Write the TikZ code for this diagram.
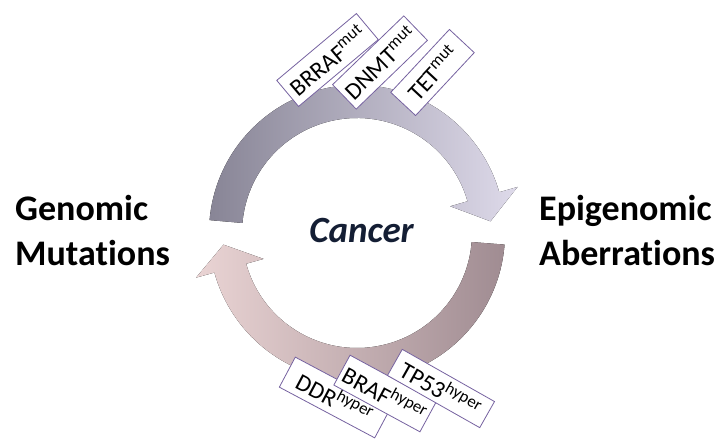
\documentclass[tikz,border=0pt]{standalone}
\usepackage{fontspec}
\setmainfont{Carlito}[Ligatures={NoCommon}, RawFeature={-liga;-clig;-dlig}]
\usepackage{tikz}
\usetikzlibrary{
	positioning
	,calc
}
\definecolor{upperdark}{RGB}{136,133,150}
\definecolor{upperlight}{RGB}{222,218,234}
\definecolor{lowerdark}{RGB}{160,140,146}
\definecolor{lowerlight}{RGB}{234,212,212}
\definecolor{cancerblue}{RGB}{20,30,52}
\definecolor{tagline}{RGB}{118,98,160}
\tikzset{
	tag/.style={
		draw=tagline
		,fill=white
		,line width=0.8pt
		,inner sep=0pt
		,minimum height=34pt
		,font=\fontsize{24}{26}\selectfont
	}
	,side/.style={
		align=left
		,anchor=west
		,inner sep=0pt
		,font=\fontsize{36}{45}\selectfont\bfseries
	}
}

\begin{document}
\begin{tikzpicture}[x=1pt, y=1pt]
\useasboundingbox (0,0) rectangle (724,442);
\coordinate (c) at (357,209);
% upper arrow
\fill[left color=upperdark, right color=upperlight]
	([shift={(175:148)}]c) arc[start angle=175, end angle=16, radius=148]
	-- ([shift={(16:167)}]c) -- ([shift={(5:134)}]c) -- ([shift={(16:97)}]c)
	-- ([shift={(16:115)}]c) arc[start angle=16, end angle=175, radius=115] -- cycle;
% lower arrow
\fill[left color=lowerlight, right color=lowerdark]
	([shift={(-4.5:148)}]c) arc[start angle=-4.5, end angle=-164.5, radius=148]
	-- ([shift={(-164.5:167)}]c) -- ([shift={(-175:134)}]c) -- ([shift={(-164.5:97)}]c)
	-- ([shift={(-164.5:115)}]c) arc[start angle=-164.5, end angle=-4.5, radius=115] -- cycle;

\node[font=\fontsize{37}{40}\selectfont\bfseries\itshape, text=cancerblue] (cancer) at (361.5,211) {Cancer};
\node[side] (genomic) at (15,211) {Genomic\\Mutations};
\node[side] (epigenomic) at (539,211) {Epigenomic\\Aberrations};

% mutated genes
\node[tag, minimum width=104pt, rotate=40] (brraf) at (327.5,382) {BRRAF\textsuperscript{mut}};
\node[tag, minimum width=99pt, rotate=44] (dnmt) at (380,379.5) {DNMT\textsuperscript{mut}};
\node[tag, minimum width=86pt, rotate=47] (tet) at (432.5,369.5) {TET\textsuperscript{mut}};
% hypermethylated genes
\node[tag, minimum width=108pt, rotate=-28] (ddr) at (335,44.5) {DDR\textsuperscript{hyper}};
\node[tag, minimum width=98pt, rotate=-28.5] (braf) at (385,48.5) {BRAF\textsuperscript{hyper}};
\node[tag, minimum width=106pt, minimum height=30pt, rotate=-29.5] (tp53) at (441,53.5) {TP53\textsuperscript{hyper}};
\end{tikzpicture}
\end{document}
